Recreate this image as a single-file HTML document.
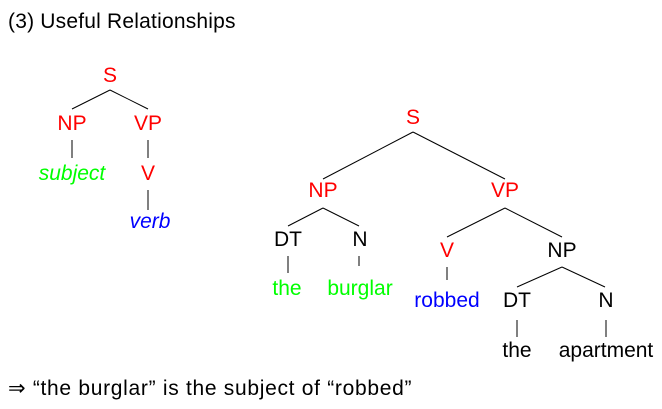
<!DOCTYPE html>
<html><head><style>
body{margin:0;background:#fff;}
svg{display:block;font-family:"Liberation Sans","DejaVu Sans",sans-serif;}
</style></head><body>
<svg width="662" height="409" viewBox="0 0 662 409">
<g font-size="21" text-anchor="middle">
<text x="8" y="28" text-anchor="start" fill="#000" letter-spacing="0.2">(3) Useful Relationships</text>
<g stroke="#000" stroke-width="1" fill="none">
<line x1="110" y1="90" x2="72" y2="109"/><line x1="110" y1="90" x2="148" y2="109"/>
<line x1="72" y1="140" x2="72" y2="158"/><line x1="148" y1="140" x2="148" y2="158"/>
<line x1="148" y1="190" x2="148" y2="210"/>
<line x1="413" y1="132" x2="323" y2="179"/><line x1="413" y1="132" x2="505" y2="179"/>
<line x1="323" y1="208" x2="288" y2="226"/><line x1="323" y1="208" x2="359" y2="226"/>
<line x1="288" y1="256" x2="288" y2="273"/><line x1="359" y1="256" x2="359" y2="266"/>
<line x1="505" y1="208" x2="447" y2="237"/><line x1="505" y1="208" x2="562" y2="237"/>
<line x1="447" y1="267" x2="447" y2="280"/>
<line x1="562" y1="267" x2="517" y2="287"/><line x1="562" y1="267" x2="605" y2="287"/>
<line x1="517" y1="320" x2="517" y2="337"/><line x1="606" y1="320" x2="606" y2="337"/>
</g>
<text x="110" y="82" fill="#f00">S</text>
<text x="72" y="130" fill="#f00">NP</text>
<text x="148" y="130" fill="#f00">VP</text>
<text x="72" y="180" fill="#0f0" font-style="italic">subject</text>
<text x="148" y="180" fill="#f00">V</text>
<text x="150" y="228" fill="#00f" font-style="italic">verb</text>
<text x="413" y="124" fill="#f00">S</text>
<text x="323" y="197" fill="#f00">NP</text>
<text x="505" y="197" fill="#f00">VP</text>
<text x="288" y="246" fill="#000">DT</text>
<text x="360" y="246" fill="#000">N</text>
<text x="287" y="295" fill="#0f0">the</text>
<text x="360" y="295" fill="#0f0">burglar</text>
<text x="447" y="257" fill="#f00">V</text>
<text x="562" y="257" fill="#000">NP</text>
<text x="447" y="307" fill="#00f">robbed</text>
<text x="517" y="307" fill="#000">DT</text>
<text x="606" y="307" fill="#000">N</text>
<text x="517" y="357" fill="#000">the</text>
<text x="606" y="357" fill="#000">apartment</text>
<text x="8" y="395" text-anchor="start" fill="#000" letter-spacing="0.7">⇒ “the burglar” is the subject of “robbed”</text>
</g>
</svg>
</body></html>
